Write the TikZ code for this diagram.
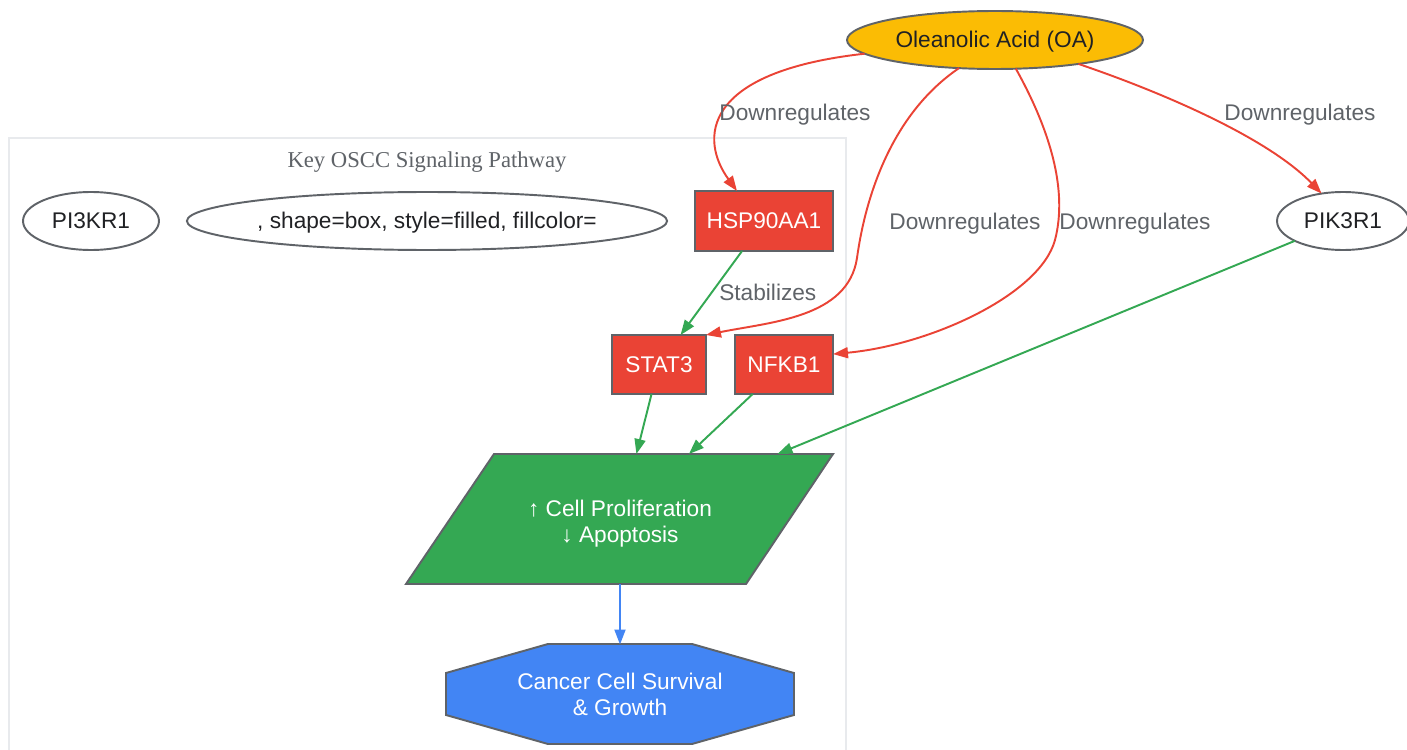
\documentclass[tikz,border=0pt]{standalone}
\usepackage{fontspec}
\setmainfont{Liberation Sans}
\newfontfamily\titlefont{Liberation Serif}
\usetikzlibrary{shapes.geometric,arrows.meta}
\definecolor{oared}{HTML}{EA4335}
\definecolor{oagreen}{HTML}{34A853}
\definecolor{oablue}{HTML}{4285F4}
\definecolor{oayellow}{HTML}{FBBC04}
\definecolor{oagray}{HTML}{5F6368}
\definecolor{oaink}{HTML}{202124}
\definecolor{clustergray}{HTML}{E8EAED}

\begin{document}
\begin{tikzpicture}[x=0.02cm, y=-0.02cm,
  every node/.style={font=\fontsize{12.9}{14.8}\selectfont, inner sep=0pt, outer sep=0pt},
  oneline/.style={text height=0.9em, text depth=0pt},
  gene/.style={oneline, draw=oagray, line width=1.1pt, fill=oared, text=white, minimum height=1.18cm},
  plain/.style={oneline, ellipse, draw=oagray, line width=1.1pt, fill=white, text=oaink, minimum height=1.16cm},
  shapeline/.style={draw=oagray, line width=1.1pt},
  elabel/.style={oneline, text=oagray},
  down/.style={draw=oared, line width=1.1pt, -{Triangle[length=0.3cm,width=0.22cm]}},
  flow/.style={draw=oagreen, line width=1.1pt, -{Triangle[length=0.3cm,width=0.22cm]}}]
\useasboundingbox (0,0) rectangle (1407,750);

\draw[clustergray, line width=0.6pt, fill=white] (9,138) rectangle (846,770);
\node[oneline, text=oagray] (title) at (427,160) {\titlefont Key OSCC Signaling Pathway};

\node[plain, fill=oayellow, minimum width=5.92cm] (oa) at (995,40) {Oleanolic Acid (OA)};
\node[plain, minimum width=2.72cm] (pi3kr1) at (91,221) {PI3KR1};
\node[plain, minimum width=9.56cm] (stray) at (427,221) {, shape=box, style=filled, fillcolor=};
\node[plain, minimum width=2.64cm] (pik3r1) at (1343,221) {PIK3R1};

\node[gene, minimum width=2.76cm, minimum height=1.2cm] (hsp) at (764,221) {HSP90AA1};
\node[gene, minimum width=1.88cm] (stat3) at (659,364.5) {STAT3};
\node[gene, minimum width=1.96cm] (nfkb1) at (784,364.5) {NFKB1};

\draw[shapeline, fill=oagreen] (494,454) -- (833,454) -- (746,584) -- (406,584) -- cycle;
\node[minimum width=6.78cm, minimum height=2.6cm,
  label={[text=white, align=center, yshift=-0.09cm]center:↑ Cell Proliferation\\↓ Apoptosis}] (prolif) at (620,519) {};

\draw[shapeline, fill=oablue] (548,644) -- (692,644) -- (794,673) -- (794,715)
  -- (692,744) -- (548,744) -- (446,715) -- (446,673) -- cycle;
\node[text=white, align=center, minimum width=6.96cm, minimum height=2cm] (survival) at (620,694.5) {Cancer Cell Survival\\\& Growth};

\draw[down] (oa.186) .. controls (700,72) and (700,140) .. (hsp.132)
  node[elabel] at (795,113) {Downregulates};
\draw[down] (oa.218) .. controls (890,115) and (865,200) .. (857,258) .. controls (848,318) and (770,322) .. (stat3.north east)
  node[elabel] at (965,222) {Downregulates};
\draw[down] (oa.306) .. controls (1050,130) and (1068,190) .. (1055,240) .. controls (1040,295) and (930,345) .. (nfkb1.12)
  node[elabel] at (1135,222) {Downregulates};
\draw[down] (oa.344) .. controls (1170,95) and (1270,140) .. (pik3r1.128)
  node[elabel] at (1300,113) {Downregulates};

\draw[flow] (hsp) -- (stat3) node[elabel, midway, anchor=west, xshift=0.16cm] {Stabilizes};
\draw[flow] (stat3) -- (prolif);
\draw[flow] (nfkb1) -- (prolif);
\draw[flow] (pik3r1) -- (prolif);
\draw[draw=oablue, line width=1.1pt, -{Triangle[length=0.3cm,width=0.22cm]}] (prolif) -- (survival);
\end{tikzpicture}
\end{document}
